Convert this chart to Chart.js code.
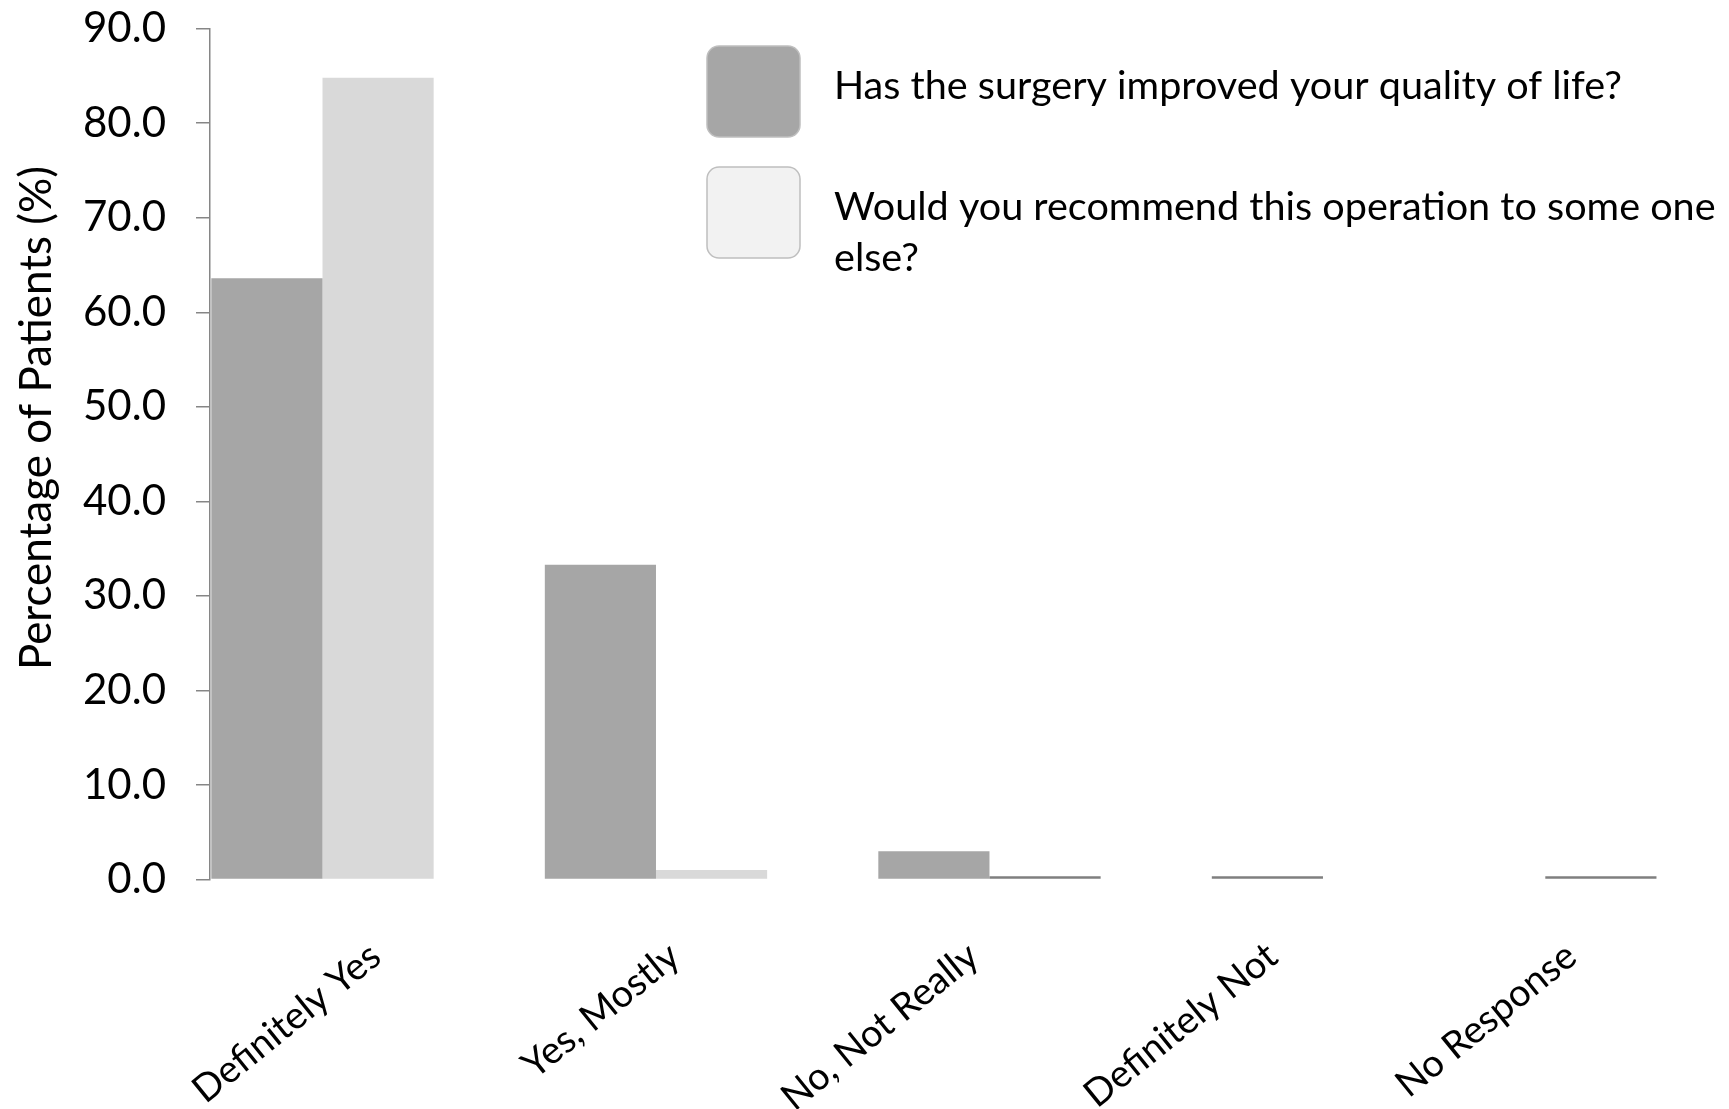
<!DOCTYPE html>
<html>
<head>
<meta charset="utf-8">
<title>Patient satisfaction after surgery</title>
<script src="https://cdn.jsdelivr.net/npm/chart.js@4/dist/chart.umd.min.js"></script>
<style>
  html, body { margin: 0; padding: 0; background: #ffffff; }
  canvas { display: block; }
</style>
</head>
<body>
<canvas id="chart" width="1729" height="1109"></canvas>
<script>
// Response categories along the x axis
const categories = ['Definitely Yes', 'Yes, Mostly', 'No, Not Really', 'Definitely Not', 'No Response'];

// Percentage of patients per answer
const improvedQualityOfLife = [63.6, 33.3, 3.0, 0.0, 0.0];
const wouldRecommend = [84.8, 1.0, 0.0, 0.0, 0.0];

// Series names (legend text)
const seriesNames = [
  'Has the surgery improved your quality of life?',
  'Would you recommend this operation to some one else?'
];

// Y axis range and step
const yMin = 0;
const yMax = 90;
const yStep = 10;
const yTitle = 'Percentage of Patients (%)';

const FONT = 'Lato, Carlito, "Open Sans", sans-serif';
const barColors = ['#a6a6a6', '#d9d9d9'];
const legendFills = ['#a6a6a6', '#f2f2f2'];

// Short dark rule drawn on the baseline wherever an answer got 0 %
const zeroMarkers = {
  id: 'zeroMarkers',
  afterDatasetsDraw(chart) {
    const { ctx } = chart;
    const y0 = chart.scales.y.getPixelForValue(0);
    const metas = chart.getSortedVisibleDatasetMetas();
    ctx.save();
    ctx.strokeStyle = '#7f7f7f';
    ctx.lineWidth = 2.5;
    categories.forEach((_, i) => {
      const zeros = metas.filter(m => chart.data.datasets[m.index].data[i].y === 0);
      const marks = zeros.length === metas.length ? zeros.slice(0, 1) : zeros;
      marks.forEach(m => {
        const el = m.data[i];
        ctx.beginPath();
        ctx.moveTo(el.x - el.width / 2, y0 - 2);
        ctx.lineTo(el.x + el.width / 2, y0 - 2);
        ctx.stroke();
      });
    });
    ctx.restore();
  }
};

// Legend with large rounded swatches in the upper right
const legendBox = { x: 707, y: 46, w: 93, h: 91, r: 12, step: 121, textX: 834, baseline: 53, lineH: 51, size: 39.6 };
const boxLegend = {
  id: 'boxLegend',
  afterDraw(chart) {
    const { ctx } = chart;
    const L = legendBox;
    ctx.save();
    ctx.font = `${L.size}px ${FONT}`;
    ctx.textBaseline = 'alphabetic';
    ctx.textAlign = 'left';
    const maxW = chart.width - L.textX - 4;
    chart.data.datasets.forEach((ds, i) => {
      const top = L.y + i * L.step;
      ctx.beginPath();
      ctx.roundRect(L.x, top, L.w, L.h, L.r);
      ctx.fillStyle = legendFills[i];
      ctx.fill();
      ctx.lineWidth = 1.5;
      ctx.strokeStyle = '#bfbfbf';
      ctx.stroke();
      // word wrap
      const words = ds.label.split(' ');
      const lines = [];
      let cur = '';
      words.forEach(w => {
        const test = cur ? cur + ' ' + w : w;
        if (ctx.measureText(test).width > maxW && cur) { lines.push(cur); cur = w; }
        else cur = test;
      });
      if (cur) lines.push(cur);
      ctx.fillStyle = '#000000';
      lines.forEach((ln, k) => ctx.fillText(ln, L.textX, top + L.baseline + k * L.lineH));
    });
    ctx.restore();
  }
};

// Rotated y axis title
const yAxisTitle = {
  id: 'yAxisTitle',
  afterDraw(chart) {
    const { ctx } = chart;
    ctx.save();
    ctx.translate(37, 418);
    ctx.rotate(-Math.PI / 2);
    ctx.font = `44px ${FONT}`;
    ctx.fillStyle = '#000000';
    ctx.textAlign = 'center';
    ctx.textBaseline = 'middle';
    ctx.fillText(yTitle, 0, 0);
    ctx.restore();
  }
};

const toPoints = arr => arr.map((v, i) => ({ x: i, y: v }));

new Chart(document.getElementById('chart'), {
  type: 'bar',
  data: {
    datasets: [
      { label: seriesNames[0], data: toPoints(improvedQualityOfLife), backgroundColor: barColors[0], xAxisID: 'x', yAxisID: 'y' },
      { label: seriesNames[1], data: toPoints(wouldRecommend), backgroundColor: barColors[1], xAxisID: 'x', yAxisID: 'y' }
    ]
  },
  options: {
    responsive: false,
    animation: false,
    devicePixelRatio: 1,
    datasets: { bar: { categoryPercentage: 2 / 3, barPercentage: 1 } },
    layout: { padding: { top: 28.7, right: 24, bottom: 0, left: 0 } },
    plugins: { legend: { display: false }, tooltip: { enabled: false } },
    scales: {
      // placement axis for the bar groups
      x: {
        type: 'linear',
        display: false,
        offset: false,
        min: -0.3373,
        max: 4.1455,
        ticks: { stepSize: 1, includeBounds: false, display: false },
        grid: { display: false }
      },
      // category labels
      xl: {
        type: 'category',
        axis: 'x',
        position: 'bottom',
        labels: categories,
        offset: true,
        grid: { display: false },
        border: { display: false },
        ticks: {
          font: { family: FONT, size: 38 },
          color: '#000000',
          minRotation: 39,
          maxRotation: 39,
          autoSkip: false,
          padding: 46,
          labelOffset: 16
        },
        afterFit(s) { s.height = 229.5; }
      },
      y: {
        min: yMin,
        max: yMax,
        ticks: {
          stepSize: yStep,
          callback: v => v.toFixed(1),
          font: { family: FONT, size: 42 },
          color: '#000000',
          padding: 30
        },
        grid: { drawOnChartArea: false, drawTicks: true, tickLength: 14, color: '#868686', lineWidth: 1.5 },
        border: { color: '#868686', width: 1.5 },
        afterFit(s) {
          s.width = 210;
          s.paddingTop = 0;
          s.paddingBottom = 0;
        }
      }
    }
  },
  plugins: [zeroMarkers, boxLegend, yAxisTitle]
});
</script>
</body>
</html>
